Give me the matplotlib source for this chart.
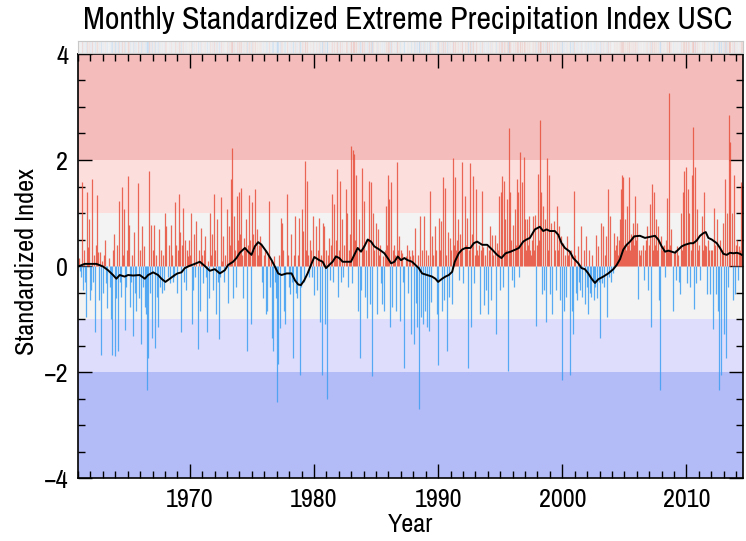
import numpy as np
import matplotlib
matplotlib.use('Agg')
import matplotlib.pyplot as plt
from matplotlib import font_manager as fm
from matplotlib.ticker import MultipleLocator

# the reference uses a narrow Helvetica-like face: take a condensed one if installed
narrow = [f for f in fm.fontManager.ttflist
          if ('Narrow' in f.name or 'Condensed' in f.name or f.stretch in ('condensed', 'semi-condensed'))
          and f.style == 'normal' and f.weight in (400, 'normal', 'regular', 'book')]
narrow.sort(key=lambda f: (0 if 'Liberation' in f.name else 1, f.name))
if narrow:
    plt.rcParams['font.family'] = [narrow[0].name, 'DejaVu Sans']
    plt.rcParams['font.stretch'] = narrow[0].stretch
else:
    plt.rcParams['font.family'] = ['Liberation Sans', 'DejaVu Sans']

# monthly index values, Jan 1961 .. Jun 2014
vals_1960s = [
    0.15, -0.1, -0.2, 1.58, -0.45, 0.3, -0.3, -0.97, 1.39, 0.35, 0.88, -0.65,
    -0.45, 1.64, -0.3, 0.2, -1.25, 0.4, 1.34, 0.27, -0.65, 0.27, -1.67, 0.1,
    -0.5, 0.2, 0.5, -0.33, -0.8, 0.15, -0.4, -1.0, -1.67, 0.3, 0.6, -1.7,
    -0.6, 0.4, -1.6, 1.23, -0.3, -0.59, 1.5, 0.2, 1.07, -1.2, -0.4, 0.3,
    1.7, 0.78, -0.78, -0.3, 0.2, -1.32, 0.65, -0.5, -0.84, 1.57, -0.6, 0.3,
    -1.48, 0.75, -0.4, 0.37, -0.78, -0.9, -2.34, -1.73, 1.8, -0.5, 0.78, -1.35,
    0.3, 0.78, -1.54, 0.2, -0.59, -1.16, 0.7, -0.4, 0.3, -0.5, 0.2, -0.45,
    1.0, 0.75, -0.2, 0.4, -0.33, 0.78, 0.2, -0.3, -0.2, 1.2, 0.4, -0.5,
    0.3, 1.36, 0.65, -1.25, 0.4, 1.1, -0.3, 0.5, -0.45, 0.3, 0.18, 0.5,
]
vals_1970s = [
    0.2, 1.0, -1.1, -0.45, 0.6, -0.2, 0.85, -1.57, 0.3, -0.85, 0.72, 0.2,
    -0.33, 0.3, 0.56, -0.2, -1.25, 0.1, -0.6, 1.0, 0.2, 0.6, -0.45, 1.36,
    0.3, -0.9, 0.88, -0.3, -1.38, -0.2, 1.31, 0.1, 0.56, -0.3, 0.2, 1.07,
    -0.7, 0.75, 0.4, 1.64, 2.22, -0.6, 0.94, 0.3, -0.4, 1.32, 0.5, 1.39,
    0.6, 1.48, 0.2, -0.6, 0.53, 0.3, 0.88, -1.6, 0.4, 1.34, 0.5, -1.1,
    1.2, 0.6, 0.3, 1.45, 0.7, 0.2, 0.4, 0.56, 0.43, -0.3, -0.6, 0.2,
    0.3, -0.9, -0.85, 0.2, 1.23, -0.4, 0.1, -1.35, -1.6, 0.18, -0.3, -0.6,
    -2.56, -1.85, 0.2, -1.17, 0.91, 0.82, 0.3, -0.85, -1.1, 1.36, 0.2, -0.4,
    -0.52, 0.6, -0.3, -1.73, 0.2, 0.94, -0.5, -0.6, 0.2, 0.91, -2.05, -0.4,
    1.07, 0.66, -0.3, 1.99, 0.3, 1.61, 0.2, -0.2, 0.5, 0.3, -0.2, 0.94,
]
vals_1980s = [
    -0.55, 0.75, -0.46, 0.3, 0.91, -1.06, 0.2, -2.05, 0.82, 0.75, -1.1, 0.3,
    -2.5, 0.2, 0.53, -0.27, 0.4, 1.36, -0.3, 1.17, 0.2, 0.5, 1.83, -0.59,
    0.3, 1.61, -0.3, 0.88, -0.2, 0.4, 1.45, 1.0, -0.4, 0.3, 0.6, 2.26,
    -0.33, 2.18, 2.12, 0.5, 1.71, 0.3, -0.84, 0.88, -1.73, -0.46, 1.85, 0.4,
    1.22, -0.59, 0.3, -0.98, 0.5, 1.61, -0.71, 1.58, -2.08, 1.0, 0.3, 0.82,
    -0.9, 0.69, 0.2, 0.4, -0.33, -0.71, 0.18, -0.84, 0.3, 1.13, 0.4, 1.71,
    1.26, -1.16, 1.58, -0.78, 0.3, 0.4, 0.2, -0.84, 1.96, 0.3, 0.56, -1.04,
    0.3, 0.24, -0.3, -1.92, 0.18, 0.4, -0.5, 0.3, 0.18, -1.29, 0.3, 0.2,
    -1.48, 0.72, -0.7, -1.16, 0.2, -2.69, 0.94, -0.96, 0.3, -1.1, 0.94, -0.84,
    0.3, -1.16, 0.2, -1.23, 1.42, -0.68, 0.56, 0.2, 0.75, 0.3, -0.9, -1.86,
]
vals_1990s = [
    0.91, 0.3, 0.85, -0.84, 1.68, -0.65, 1.48, 0.2, -1.6, 0.65, -0.59, 0.53,
    0.3, -0.71, 2.04, 0.4, 1.68, 0.3, 0.5, 0.88, -0.27, 0.6, 0.3, 1.96,
    -0.33, 1.32, 0.4, 0.91, -1.92, 0.3, 1.94, -1.16, 0.6, 1.7, -0.33, 0.2,
    1.45, 0.3, 0.2, 0.4, -0.9, 0.3, 1.42, 0.35, -0.74, 0.2, -0.46, 0.38,
    -0.9, 0.3, 0.75, -0.65, 0.59, 0.2, 0.59, -1.29, 0.43, 0.3, 1.32, -0.46,
    1.39, 1.7, -0.4, 1.61, 0.88, 0.3, 1.26, -1.99, 2.6, 1.39, 0.5, -0.27,
    0.78, -0.4, 1.07, 0.4, 1.64, 1.39, -0.2, 2.15, 0.4, 1.58, 2.06, 0.88,
    0.3, 0.88, 0.4, 0.94, 0.3, 0.2, 0.5, 0.94, 0.3, 0.97, -1.13, 0.4,
    1.74, 0.5, 2.76, 1.39, -0.52, 1.13, -0.46, 0.88, -1.06, 2.04, 0.3, 1.71,
    -0.52, 0.82, -0.9, 0.85, 0.3, -0.46, 1.13, 0.3, 0.75, -0.65, 0.56, -2.15,
]
vals_2000s = [
    0.43, -0.84, 0.2, -0.59, 0.56, 0.2, 0.3, -2.05, 0.31, -0.84, -1.29, 1.42,
    0.2, -0.5, -0.65, 0.37, -0.3, -0.46, 0.75, -0.59, 0.31, -0.71, 0.56, -0.4,
    -0.9, 0.31, -0.5, -0.59, 0.2, -0.3, -0.65, -0.4, 0.59, -0.6, 0.37, -0.3,
    -1.35, 0.82, -0.33, 0.75, -0.4, 0.2, 0.56, -0.97, 1.45, -0.2, 0.94, -0.3,
    -0.14, 0.62, 0.3, 0.4, 0.56, 0.2, 0.5, 0.88, 1.45, 1.71, 1.68, 0.4,
    0.88, 0.3, 1.13, 0.4, 1.68, 0.3, 0.6, 0.56, 0.82, 0.4, 1.32, 0.5,
    0.82, -0.62, 0.3, 0.2, 0.31, 0.4, -0.27, 0.3, 0.5, 0.75, -0.46, 0.4,
    1.17, -1.15, 1.55, 0.3, 1.39, 0.4, 0.88, 0.3, 0.75, -0.65, -2.34, 0.56,
    0.3, 0.37, 0.4, -0.2, 0.5, 1.29, 0.3, 3.27, 0.4, 0.69, -0.84, 0.24,
    0.3, -0.27, 0.37, 0.2, -0.3, -0.52, 1.0, 0.3, 1.39, 1.8, 0.4, 1.87,
]
vals_2010s = [
    -0.33, 1.45, 1.0, -0.4, 0.3, 1.71, 2.63, -0.81, 1.87, -0.33, 1.07, 0.3,
    0.4, -0.27, 0.94, 0.3, 1.39, 0.4, 0.37, -0.52, 0.5, 0.3, -0.52, 0.31,
    0.3, -1.19, 1.1, 0.4, -0.52, 0.88, -0.84, -2.34, 0.5, -2.05, 0.3, 0.82,
    -1.29, 1.64, -1.73, 1.0, -0.4, 2.85, 2.34, 1.0, -0.65, 1.71, -0.52, 0.4,
    0.5, -0.27, 0.37, 0.3, 1.58, 1.52,
]

# smoothed curve (black line)
smooth_years = [
    1961.0, 1961.54, 1962.0, 1962.48, 1963.02, 1963.42, 1963.82, 1964.09, 1964.36, 1964.76,
    1965.03, 1965.44, 1965.97, 1966.38, 1966.65, 1967.05, 1967.45, 1967.72, 1968.04, 1968.39,
    1968.8, 1969.01, 1969.33, 1969.6, 1969.95, 1970.4, 1970.81, 1971.21, 1971.61, 1972.02,
    1972.42, 1972.82, 1973.09, 1973.49, 1973.76, 1974.03, 1974.44, 1974.7, 1974.97, 1975.24,
    1975.51, 1975.78, 1976.18, 1976.59, 1976.85, 1977.12, 1977.39, 1977.8, 1978.2, 1978.47,
    1978.74, 1978.95, 1979.22, 1979.49, 1979.76, 1980.03, 1980.43, 1980.7, 1980.97, 1981.23,
    1981.5, 1981.77, 1982.04, 1982.31, 1982.58, 1982.98, 1983.25, 1983.52, 1983.79, 1984.06,
    1984.33, 1984.6, 1984.86, 1985.27, 1985.67, 1985.94, 1986.21, 1986.48, 1986.75, 1987.01,
    1987.28, 1987.55, 1987.9, 1988.17, 1988.44, 1988.71, 1989.11, 1989.51, 1989.78, 1990.0,
    1990.32, 1990.59, 1990.86, 1991.13, 1991.34, 1991.66, 1991.93, 1992.2, 1992.6, 1992.87,
    1993.14, 1993.55, 1993.95, 1994.35, 1994.75, 1995.1, 1995.43, 1995.83, 1996.23, 1996.5,
    1996.85, 1997.12, 1997.39, 1997.79, 1998.19, 1998.46, 1998.73, 1999.0, 1999.4, 1999.67,
    1999.94, 2000.21, 2000.61, 2000.88, 2001.29, 2001.55, 2001.82, 2002.09, 2002.36, 2002.63,
    2002.9, 2003.3, 2003.7, 2004.11, 2004.38, 2004.65, 2004.91, 2005.18, 2005.45, 2005.8,
    2006.25, 2006.66, 2007.06, 2007.46, 2007.73, 2008.0, 2008.27, 2008.54, 2008.81, 2009.08,
    2009.34, 2009.61, 2009.88, 2010.29, 2010.55, 2010.82, 2011.09, 2011.36, 2011.55, 2011.76,
    2012.03, 2012.44, 2012.7, 2012.97, 2013.24, 2013.51, 2013.78, 2014.05, 2014.32, 2014.45,
]
smooth_vals = [
    -0.01, 0.04, 0.04, 0.04, -0.01, -0.08, -0.17, -0.24, -0.17, -0.2,
    -0.17, -0.18, -0.17, -0.24, -0.17, -0.12, -0.17, -0.24, -0.3, -0.24,
    -0.17, -0.14, -0.12, -0.04, 0.0, 0.04, 0.08, 0.0, -0.09, -0.06,
    -0.14, -0.08, 0.02, 0.08, 0.15, 0.25, 0.34, 0.27, 0.21, 0.37,
    0.45, 0.4, 0.27, 0.11, -0.01, -0.14, -0.17, -0.14, -0.14, -0.27,
    -0.35, -0.36, -0.27, -0.14, 0.02, 0.17, 0.11, 0.08, -0.04, 0.02,
    0.08, 0.18, 0.15, 0.08, 0.08, 0.08, 0.21, 0.34, 0.27, 0.37,
    0.5, 0.46, 0.37, 0.31, 0.24, 0.15, 0.05, 0.08, 0.18, 0.11,
    0.15, 0.11, 0.08, 0.02, -0.04, -0.14, -0.17, -0.2, -0.24, -0.3,
    -0.24, -0.2, -0.17, -0.11, 0.08, 0.24, 0.31, 0.34, 0.34, 0.43,
    0.46, 0.4, 0.4, 0.31, 0.21, 0.15, 0.24, 0.27, 0.31, 0.34,
    0.46, 0.5, 0.53, 0.69, 0.74, 0.66, 0.69, 0.66, 0.66, 0.59,
    0.43, 0.34, 0.27, 0.15, 0.05, -0.04, -0.06, -0.14, -0.24, -0.32,
    -0.25, -0.2, -0.14, -0.06, 0.02, 0.13, 0.31, 0.4, 0.46, 0.56,
    0.57, 0.53, 0.55, 0.57, 0.5, 0.37, 0.27, 0.29, 0.27, 0.25,
    0.31, 0.37, 0.4, 0.43, 0.43, 0.48, 0.57, 0.62, 0.64, 0.53,
    0.5, 0.43, 0.34, 0.23, 0.21, 0.25, 0.24, 0.25, 0.23, 0.21,
]

band_edges = [-4, -2, -1, 1, 2, 4.2]
band_colors = ['#b4bcf8', '#dedefc', '#f2f3f2', '#fcdedd', '#f4bdbb']

values = np.array(vals_1960s + vals_1970s + vals_1980s + vals_1990s + vals_2000s + vals_2010s)
months = 1961 + (np.arange(len(values)) + 0.5) / 12.0
red = '#e8503c'
blue = '#3d9ff2'
colors = np.where(values >= 0, red, blue)

W, H = 746, 541
fig = plt.figure(figsize=(W / 100, H / 100), dpi=100)
renderer = fig.canvas.get_renderer()


def fit_size(text, width_px, start=20):
    # font size that gives the text the measured pixel width
    t = fig.text(0, 0, text, fontsize=start)
    w = t.get_window_extent(renderer).width
    t.remove()
    return start * width_px / w


lab_size = min(fit_size('1970', 48), 20)
title_size = min(fit_size('Monthly Standardized Extreme Precipitation Index USC', 651), 23)

ax = fig.add_axes([78 / W, (H - 478) / H, (743 - 78) / W, (478 - 54) / H])

for lo, hi, c in zip(band_edges[:-1], band_edges[1:], band_colors):
    ax.axhspan(lo, hi, color=c, lw=0, zorder=0)

ax.vlines(months, 0, values, colors=colors, lw=0.9, alpha=0.85, zorder=2)
ax.plot(smooth_years, smooth_vals, color='black', lw=1.4, zorder=3)

ax.set_xlim(1961, 2014.55)
ax.set_ylim(-4, 4)
ax.xaxis.set_minor_locator(MultipleLocator(1))
ax.yaxis.set_minor_locator(MultipleLocator(0.5))
ax.tick_params(which='both', direction='in', top=True, right=True, width=1.0)
ax.tick_params(which='major', length=10, labelsize=lab_size, pad=7)
ax.tick_params(which='minor', length=5)
ax.set_xticks([1970, 1980, 1990, 2000, 2010])
ax.set_yticks([-4, -2, 0, 2, 4])
ax.set_yticklabels(['\u22124', '\u22122', '0', '2', '4'])
for s in ax.spines.values():
    s.set_linewidth(1.2)
ax.set_xlabel('Year', fontsize=lab_size)
ax.set_ylabel('Standardized Index', fontsize=lab_size)
ax.xaxis.set_label_coords(0.5 * (78 + 743) / W * W / (743 - 78) - 78 / (743 - 78), -(525 - 478) / (478 - 54), transform=ax.transAxes)
ax.xaxis.label.set_va('center')
ax.yaxis.set_label_coords(-(78 - 27) / (743 - 78), 0.5 - (262 - 266) / (478 - 54))
ax.yaxis.label.set_va('center')

# thin strip above the plot
sx = fig.add_axes([78 / W, (H - 53) / H, (743 - 78) / W, 12 / H])
sx.set_facecolor('#f2f2f2')
alphas = np.clip(np.abs(values) / 3.0, 0, 1) * 0.25
for x, v, c, a in zip(months, values, colors, alphas):
    sx.axvline(x, color=c, lw=0.9, alpha=a)
sx.set_xlim(1961, 2014.55)
sx.set_xticks([])
sx.set_yticks([])
for s in sx.spines.values():
    s.set_color('#c8c8c8')

fig.text((82 + 733) / 2 / W, 1 - 20 / H, 'Monthly Standardized Extreme Precipitation Index USC',
         ha='center', va='center', fontsize=title_size)

fig.savefig('out.png', dpi=100)
